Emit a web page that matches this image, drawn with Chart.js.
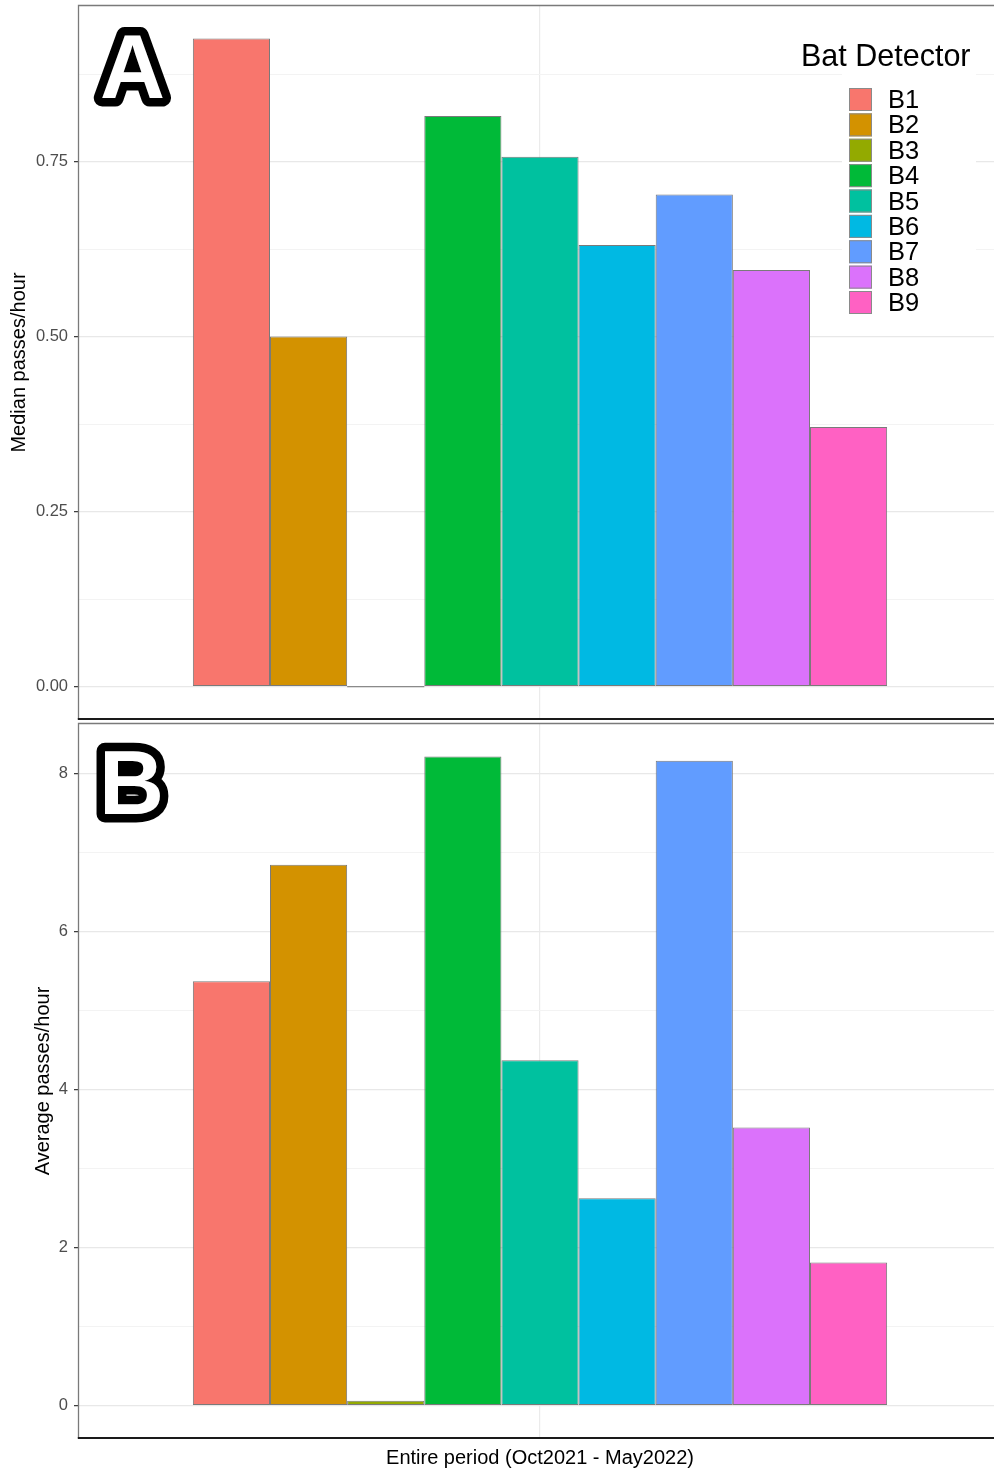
<!DOCTYPE html>
<html>
<head>
<meta charset="utf-8">
<title>Bat detector activity</title>
<script src="https://cdn.jsdelivr.net/npm/chart.js@4.4.1/dist/chart.umd.min.js"></script>
<style>
  html, body { margin: 0; padding: 0; background: #ffffff; overflow: hidden; }
  #wrap { width: 994px; height: 1471px; overflow: hidden; position: relative; }
  canvas { display: block; }
</style>
</head>
<body>
<div id="wrap">
  <canvas id="panelA" width="1002" height="720"></canvas>
  <canvas id="panelB" width="1002" height="751"></canvas>
</div>
<script>
// ---- data ----
const categories = ['Entire period (Oct2021 - May2022)'];
const detectors = ['B1', 'B2', 'B3', 'B4', 'B5', 'B6', 'B7', 'B8', 'B9'];
const detectorColors = ['#F8766D', '#D39200', '#93AA00', '#00BA38', '#00C19F', '#00B9E3', '#619CFF', '#DB72FB', '#FF61C3'];
const medianPasses = [0.926, 0.500, 0.000, 0.815, 0.757, 0.631, 0.703, 0.595, 0.371];
const averagePasses = [5.37, 6.845, 0.06, 8.215, 4.37, 2.625, 8.16, 3.52, 1.81];
const medianTicks = [0, 0.25, 0.5, 0.75];
const medianTickLabels = ['0.00', '0.25', '0.50', '0.75'];
const averageTicks = [0, 2, 4, 6, 8];
const averageTickLabels = ['0', '2', '4', '6', '8'];
const legendTitle = 'Bat Detector';

const FONT = "'Liberation Sans', Arial, Helvetica, sans-serif";

// y range padded by 5% of the tallest bar on both ends
function paddedRange(values) {
  const hi = Math.max(...values);
  return { min: -0.05 * hi, max: 1.05 * hi };
}

// major ticks carry labels; minor grid lines sit halfway between them
function tickList(majors, labels, max) {
  const step = majors[1] - majors[0];
  const out = [];
  majors.forEach((v, i) => {
    out.push({ value: v, text: labels[i], minor: false });
    const m = v + step / 2;
    if (m <= max) out.push({ value: m, text: '', minor: true });
  });
  return out.sort((a, b) => a.value - b.value);
}

function buildDatasets(values) {
  return detectors.map((name, i) => ({
    label: name,
    data: [values[i]],
    backgroundColor: detectorColors[i],
    borderColor: '#7a7a7a',
    borderWidth: 1,
    borderSkipped: false,
    categoryPercentage: 0.753,
    barPercentage: 1.0
  }));
}

// frame, zero-height bars, in-panel legend and the panel letter
const panelDecor = {
  id: 'panelDecor',
  afterDatasetsDraw(chart, args, opts) {
    const ctx = chart.ctx;
    const a = chart.chartArea;

    // bars whose value is zero still show their outline along the baseline
    chart.data.datasets.forEach((ds, i) => {
      chart.getDatasetMeta(i).data.forEach(el => {
        if (Math.abs(el.base - el.y) < 1) {
          ctx.save();
          ctx.strokeStyle = '#8a8a8a';
          ctx.lineWidth = 1.2;
          ctx.beginPath();
          ctx.moveTo(el.x - el.width / 2, el.y);
          ctx.lineTo(el.x + el.width / 2, el.y);
          ctx.stroke();
          ctx.restore();
        }
      });
    });

    // panel frame: grey top/left, dark bottom axis line
    ctx.save();
    ctx.strokeStyle = '#7a7a7a';
    ctx.lineWidth = 1.3;
    ctx.beginPath();
    ctx.moveTo(a.right + 2, a.top - 0.5);
    ctx.lineTo(a.left - 0.5, a.top - 0.5);
    ctx.lineTo(a.left - 0.5, a.bottom);
    ctx.stroke();
    ctx.strokeStyle = '#1a1a1a';
    ctx.lineWidth = 2;
    ctx.beginPath();
    ctx.moveTo(a.left - 1.2, a.bottom);
    ctx.lineTo(a.right + 2, a.bottom);
    ctx.stroke();
    ctx.restore();

    // legend inside the panel
    if (opts.legend) {
      ctx.save();
      ctx.fillStyle = '#ffffff';
      ctx.fillRect(842, 30, 134, 288);
      ctx.fillStyle = '#000000';
      ctx.textBaseline = 'middle';
      ctx.textAlign = 'left';
      ctx.font = `30.5px ${FONT}`;
      ctx.fillText(legendTitle, 801, 58);
      ctx.font = `25.5px ${FONT}`;
      chart.data.datasets.forEach((ds, i) => {
        const cy = 99.5 + i * 25.375;
        ctx.fillStyle = ds.backgroundColor;
        ctx.fillRect(849, cy - 11.5, 23, 23);
        ctx.strokeStyle = '#8a8a8a';
        ctx.lineWidth = 1;
        ctx.strokeRect(849.5, cy - 11, 22, 22);
        ctx.fillStyle = '#000000';
        ctx.fillText(ds.label, 888, cy + 1.5);
      });
      ctx.restore();
    }

    // outlined panel letter
    if (opts.letter) {
      ctx.save();
      ctx.font = `bold 90px ${FONT}`;
      ctx.textBaseline = 'alphabetic';
      ctx.textAlign = 'left';
      ctx.lineJoin = 'round';
      ctx.lineWidth = 17;
      ctx.strokeStyle = '#000000';
      ctx.strokeText(opts.letter, opts.letterX, opts.letterY);
      ctx.fillStyle = '#ffffff';
      ctx.fillText(opts.letter, opts.letterX, opts.letterY);
      ctx.restore();
    }
  }
};

function makePanel(canvasId, cfg) {
  const range = paddedRange(cfg.values);
  const ticks = tickList(cfg.majors, cfg.labels, range.max);
  return new Chart(document.getElementById(canvasId), {
    type: 'bar',
    data: { labels: categories, datasets: buildDatasets(cfg.values) },
    plugins: [panelDecor],
    options: {
      responsive: false,
      animation: false,
      devicePixelRatio: 1,
      layout: { padding: { top: cfg.padTop, right: 1, bottom: 0, left: 0 } },
      plugins: {
        legend: { display: false },
        tooltip: { enabled: false },
        panelDecor: { legend: cfg.legend, letter: cfg.letter, letterX: cfg.letterX, letterY: cfg.letterY }
      },
      scales: {
        x: {
          type: 'category',
          offset: true,
          grid: { offset: false, color: '#ebebeb', lineWidth: 1.2, drawTicks: false },
          border: { display: false },
          ticks: { display: false },
          title: {
            display: cfg.xTitle,
            text: categories[0],
            color: '#000000',
            font: { family: FONT, size: 20 },
            padding: { top: 0, bottom: 0.5 }
          },
          afterFit: s => { s.height = cfg.xHeight; s.paddingLeft = 0; s.paddingRight = 0; }
        },
        y: {
          type: 'linear',
          min: range.min,
          max: range.max,
          afterBuildTicks: s => { s.ticks = ticks.map(t => ({ value: t.value, text: t.text, minor: t.minor })); },
          afterFit: s => { s.width = 79; s.paddingTop = 0; s.paddingBottom = 0; },
          ticks: {
            padding: 6,
            color: '#4d4d4d',
            font: { family: FONT, size: 16.5 },
            callback: (v, i, tk) => tk[i].text
          },
          grid: {
            color: c => (c.tick && c.tick.minor) ? '#f3f3f3' : '#e8e8e8',
            lineWidth: c => (c.tick && c.tick.minor) ? 1 : 1.3,
            tickColor: c => (c.tick && c.tick.minor) ? 'rgba(0,0,0,0)' : '#333333',
            tickLength: 5,
            tickWidth: 1.2
          },
          border: { display: false },
          title: {
            display: true,
            text: cfg.yTitle,
            color: '#000000',
            font: { family: FONT, size: 20 },
            padding: { top: cfg.yTitlePad, bottom: 0 }
          }
        }
      }
    }
  });
}

makePanel('panelA', {
  values: medianPasses,
  majors: medianTicks,
  labels: medianTickLabels,
  yTitle: 'Median passes/hour',
  yTitlePad: 7.5,
  padTop: 6,
  xHeight: 1,
  xTitle: false,
  legend: true,
  letter: 'A',
  letterX: 100,
  letterY: 98
});

makePanel('panelB', {
  values: averagePasses,
  majors: averageTicks,
  labels: averageTickLabels,
  yTitle: 'Average passes/hour',
  yTitlePad: 31.5,
  padTop: 4,
  xHeight: 33,
  xTitle: true,
  legend: false,
  letter: 'B',
  letterX: 99,
  letterY: 94
});
</script>
</body>
</html>
